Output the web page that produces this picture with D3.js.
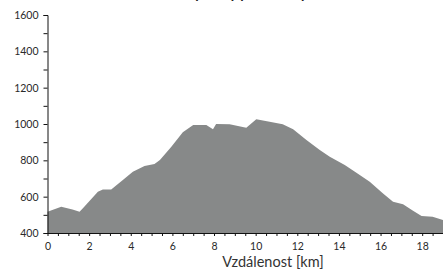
<!DOCTYPE html>
<html>
<head>
<meta charset="utf-8">
<script src="https://cdn.jsdelivr.net/npm/d3@7"></script>
<style>
  body { margin: 0; background: #fff; }
  svg text { font-family: Lato, "Open Sans", sans-serif; }
</style>
</head>
<body>
<svg id="profile" width="443" height="270"></svg>
<script>
// profile samples
var distanceKm = [0, 0.66, 1.2, 1.54, 1.7, 2.42, 2.66, 3.06, 3.62, 4.1, 4.66, 5.14, 5.4, 5.95, 6.5, 7.0, 7.63, 7.95, 8.1, 8.75, 9.55, 10.03, 10.67, 11.3, 11.8, 12.44, 13.08, 13.56, 14.28, 14.84, 15.48, 16.12, 16.6, 17.08, 17.56, 17.97, 18.5, 19.0];
var elevationM = [517, 545, 530, 517, 536, 627, 640, 640, 692, 737, 769, 780, 802, 875, 954, 994, 994, 971, 1000, 998, 980, 1026, 1013, 998, 971, 912, 857, 820, 774, 732, 682, 618, 572, 558, 523, 494, 490, 472];
var xTickLabels = [0, 2, 4, 6, 8, 10, 12, 14, 16, 18];
var yTickLabels = [400, 600, 800, 1000, 1200, 1400, 1600];
var chartTitle = "Výškový profil trasy";
var xTitle = "Vzdálenost [km]";

var data = distanceKm.map((d, i) => ({km: d, m: elevationM[i]}));

var svg = d3.select("#profile");

var x = d3.scaleLinear().domain([0, 19]).range([47.5, 443]);
var y = d3.scaleLinear().domain([400, 1600]).range([233, 15]);

// title (mostly cut off at the top, as in the source)
svg.append("text")
  .attr("x", 246).attr("y", -1)
  .attr("text-anchor", "middle")
  .style("font-size", "14px").style("font-weight", "bold")
  .attr("fill", "#222")
  .text(chartTitle);

var area = d3.area()
  .x(d => x(d.km))
  .y0(y(400))
  .y1(d => y(d.m));

svg.append("path")
  .datum(data)
  .attr("fill", "#878989")
  .attr("d", area);

// y axis: major ticks labelled, minor every 100
var yAxis = svg.append("g")
  .attr("transform", "translate(" + x(0) + ",0)")
  .call(d3.axisLeft(y).tickValues(d3.range(400, 1601, 100)).tickSize(4)
    .tickFormat(d => yTickLabels.includes(d) ? d : ""));
yAxis.select(".domain").attr("stroke", "#111");
yAxis.selectAll(".tick line").attr("stroke", "#111");
yAxis.selectAll("text").attr("fill", "#2a2a2a").style("font-size", "10.5px").attr("x", -9);

// x axis: ticks every 0.5 km
var xAxis = svg.append("g")
  .attr("transform", "translate(0," + y(400) + ")")
  .call(d3.axisBottom(x).tickValues(d3.range(0, 19.01, 0.5)).tickSizeInner(3).tickSizeOuter(0)
    .tickFormat(d => xTickLabels.includes(d) ? d : ""));
xAxis.select(".domain").attr("stroke", "#111");
xAxis.selectAll(".tick line").attr("stroke", "#111");
xAxis.selectAll("text").attr("fill", "#2a2a2a").style("font-size", "10.5px").attr("dy", "0.71em").attr("y", 10);

svg.append("text")
  .attr("x", 273).attr("y", 267)
  .attr("text-anchor", "middle")
  .style("font-size", "14.5px")
  .attr("fill", "#333")
  .text(xTitle);
</script>
</body>
</html>
